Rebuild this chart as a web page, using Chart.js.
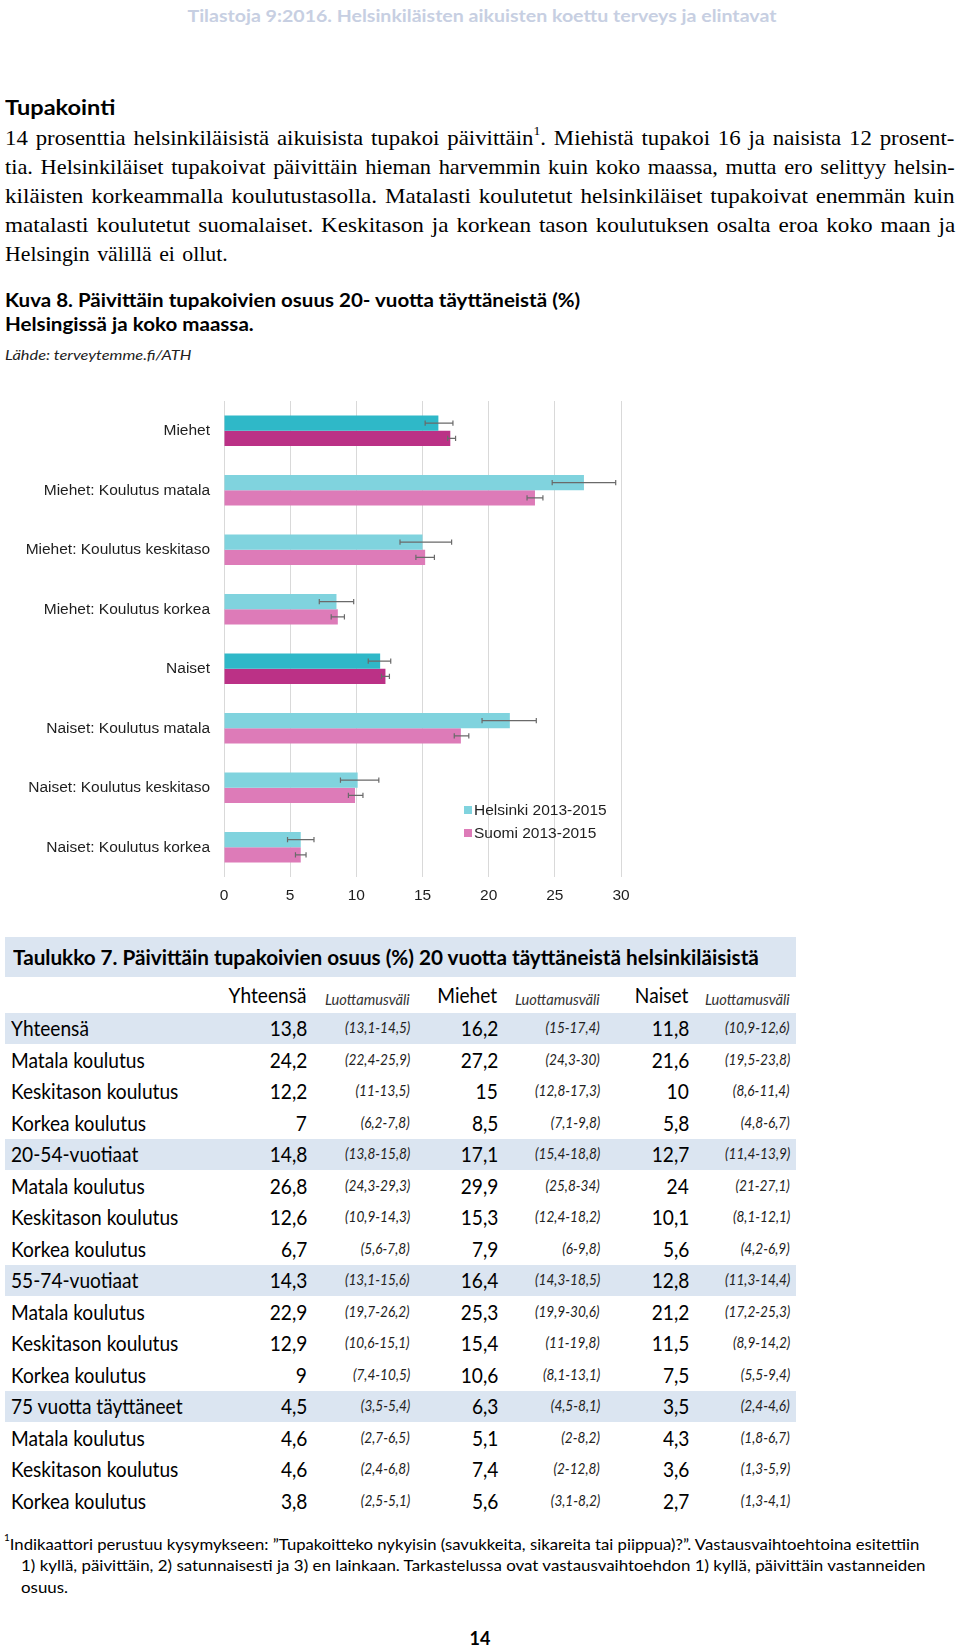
<!DOCTYPE html>
<html><head><meta charset="utf-8">
<script src="https://cdn.jsdelivr.net/npm/chart.js@4.4.1/dist/chart.umd.min.js"></script>
<style>
html,body{margin:0;padding:0;background:#fff}
body{width:960px;height:1649px;position:relative;overflow:hidden}
.t{position:absolute;white-space:nowrap;line-height:1;color:#000}
.band{position:absolute;background:#dbe5f1}
sup{font-size:0.6em;vertical-align:top;position:relative;top:-0.15em}
</style></head><body>
<canvas id="c" width="650" height="530" style="position:absolute;left:0;top:390px;width:650px;height:530px"></canvas>
<script>
// ---------- chart data ----------
const categories = ["Miehet","Miehet: Koulutus matala","Miehet: Koulutus keskitaso","Miehet: Koulutus korkea","Naiset","Naiset: Koulutus matala","Naiset: Koulutus keskitaso","Naiset: Koulutus korkea"];
const seriesNames = ["Helsinki 2013-2015","Suomi 2013-2015"];
const helsinkiValues = [16.2, 27.2, 15.0, 8.5, 11.8, 21.6, 10.1, 5.8];
const helsinkiLow    = [15.2, 24.8, 13.3, 7.2, 10.9, 19.5, 8.8, 4.8];
const helsinkiHigh   = [17.3, 29.6, 17.2, 9.8, 12.6, 23.6, 11.7, 6.8];
const suomiValues    = [17.1, 23.5, 15.2, 8.6, 12.2, 17.9, 9.9, 5.8];
const suomiLow       = [16.9, 22.9, 14.5, 8.1, 11.9, 17.4, 9.4, 5.4];
const suomiHigh      = [17.5, 24.1, 15.9, 9.1, 12.5, 18.5, 10.5, 6.2];
const totalRows      = [0, 4];
const xTicks         = [0, 5, 10, 15, 20, 25, 30];

// ---------- table data ----------
const tableTitle = "Taulukko 7. Päivittäin tupakoivien osuus (%) 20 vuotta täyttäneistä helsinkiläisistä";
const tableHeads = ["Yhteensä","Miehet","Naiset"];
const ciHead = "Luottamusväli";
const tableRows = ["Yhteensä","Matala koulutus","Keskitason koulutus","Korkea koulutus","20-54-vuotiaat","Matala koulutus","Keskitason koulutus","Korkea koulutus","55-74-vuotiaat","Matala koulutus","Keskitason koulutus","Korkea koulutus","75 vuotta täyttäneet","Matala koulutus","Keskitason koulutus","Korkea koulutus"];
const bandRows = [0, 4, 8, 12];
const totalVals = ["13,8","24,2","12,2","7","14,8","26,8","12,6","6,7","14,3","22,9","12,9","9","4,5","4,6","4,6","3,8"];
const totalCI = ["(13,1-14,5)","(22,4-25,9)","(11-13,5)","(6,2-7,8)","(13,8-15,8)","(24,3-29,3)","(10,9-14,3)","(5,6-7,8)","(13,1-15,6)","(19,7-26,2)","(10,6-15,1)","(7,4-10,5)","(3,5-5,4)","(2,7-6,5)","(2,4-6,8)","(2,5-5,1)"];
const menVals = ["16,2","27,2","15","8,5","17,1","29,9","15,3","7,9","16,4","25,3","15,4","10,6","6,3","5,1","7,4","5,6"];
const menCI = ["(15-17,4)","(24,3-30)","(12,8-17,3)","(7,1-9,8)","(15,4-18,8)","(25,8-34)","(12,4-18,2)","(6-9,8)","(14,3-18,5)","(19,9-30,6)","(11-19,8)","(8,1-13,1)","(4,5-8,1)","(2-8,2)","(2-12,8)","(3,1-8,2)"];
const womenVals = ["11,8","21,6","10","5,8","12,7","24","10,1","5,6","12,8","21,2","11,5","7,5","3,5","4,3","3,6","2,7"];
const womenCI = ["(10,9-12,6)","(19,5-23,8)","(8,6-11,4)","(4,8-6,7)","(11,4-13,9)","(21-27,1)","(8,1-12,1)","(4,2-6,9)","(11,3-14,4)","(17,2-25,3)","(8,9-14,2)","(5,5-9,4)","(2,4-4,6)","(1,8-6,7)","(1,3-5,9)","(1,3-4,1)"];

// ---------- text helpers ----------
function put(html, o){
  const el=document.createElement('div');
  el.className='t';
  el.innerHTML=html;
  el.style.font=o.font;
  if(o.color) el.style.color=o.color;
  if(o.ws!==undefined) el.style.wordSpacing=o.ws+'px';
  document.body.appendChild(el);
  const w=el.offsetWidth, h=el.offsetHeight;
  const k=o.w? o.w/w : (o.k||1);
  let left=o.x, origin='left';
  if(o.align==='right'){left=o.x-w;origin='right';}
  else if(o.align==='center'){left=o.x-w/2;origin='center';}
  el.style.left=left+'px';
  el.style.top=(o.y-h/2)+'px';
  el.style.transformOrigin=origin+' center';
  el.style.transform='scaleX('+k+')';
  return el;
}
function measure(text, font){
  const el=document.createElement('span');
  el.style.cssText='position:absolute;white-space:nowrap;visibility:hidden;font:'+font;
  el.textContent=text; document.body.appendChild(el);
  const w=el.offsetWidth; el.remove(); return w;
}

// header
put("Tilastoja 9:2016. Helsinkiläisten aikuisten koettu terveys ja elintavat",{x:482,y:15,align:'center',font:'bold 17px Lato',color:'#c7cfe2',w:589});
put("Tupakointi",{x:5,y:106,font:'bold 21px Lato',w:110});

// paragraph (justified lines)
const pf='21.5px "Liberation Serif"';
const pLines=[
 "14 prosenttia helsinkiläisistä aikuisista tupakoi päivittäin<sup>1</sup>. Miehistä tupakoi 16 ja naisista 12 prosent-",
 "tia. Helsinkiläiset tupakoivat päivittäin hieman harvemmin kuin koko maassa, mutta ero selittyy helsin-",
 "kiläisten korkeammalla koulutustasolla. Matalasti koulutetut helsinkiläiset tupakoivat enemmän kuin",
 "matalasti koulutetut suomalaiset. Keskitason ja korkean tason koulutuksen osalta eroa koko maan ja"
];
pLines.forEach((l,i)=>put(l,{x:5,y:138+i*29,font:pf,ws:2,w:950}));
put("Helsingin välillä ei ollut.",{x:5,y:138+4*29,font:pf,ws:2,w:223});

put("Kuva 8. Päivittäin tupakoivien osuus 20- vuotta täyttäneistä (%)",{x:5,y:300,font:'bold 18px Lato',w:575});
put("Helsingissä ja koko maassa.",{x:5,y:324,font:'bold 18px Lato',w:249});
put("Lähde: terveytemme.fi/ATH",{x:5,y:354,font:'italic 14px Lato',w:186,color:'#222'});

// ---------- chart ----------
const darkColors=['#2fb8c8','#bb3186'];
const lightColors=['#80d3de','#dd7bb8'];
function colorsFor(d){return categories.map((c,i)=>totalRows.includes(i)?darkColors[d]:lightColors[d]);}

const errorBarPlugin={id:'errbars',afterDatasetsDraw(chart){
  const ctx=chart.ctx, xs=chart.scales.x;
  const lows=[helsinkiLow,suomiLow], highs=[helsinkiHigh,suomiHigh];
  ctx.save(); ctx.strokeStyle='#6a6a6a'; ctx.lineWidth=1.2;
  chart.data.datasets.forEach((ds,d)=>{
    chart.getDatasetMeta(d).data.forEach((bar,j)=>{
      const y=bar.y, x1=xs.getPixelForValue(lows[d][j]), x2=xs.getPixelForValue(highs[d][j]);
      ctx.beginPath();
      ctx.moveTo(x1,y); ctx.lineTo(x2,y);
      ctx.moveTo(x1,y-2.6); ctx.lineTo(x1,y+2.6);
      ctx.moveTo(x2,y-2.6); ctx.lineTo(x2,y+2.6);
      ctx.stroke();
    });
  });
  ctx.restore();
}};
const legendPlugin={id:'inlegend',afterDraw(chart){
  const ctx=chart.ctx, a=chart.chartArea;
  ctx.save();
  ctx.font='15.5px "Liberation Sans", Arial';
  ctx.textBaseline='middle';
  chart.data.datasets.forEach((ds,i)=>{
    const x=a.left+240, y=a.bottom-67+i*23;
    ctx.fillStyle=lightColors[i]; ctx.fillRect(x,y-4,8,8);
    ctx.fillStyle='#1e1e1e'; ctx.fillText(ds.label,x+10,y+0.5);
  });
  ctx.restore();
}};

new Chart(document.getElementById('c'),{
  type:'bar',
  data:{labels:categories,datasets:[
    {label:seriesNames[0],data:helsinkiValues,backgroundColor:colorsFor(0)},
    {label:seriesNames[1],data:suomiValues,backgroundColor:colorsFor(1)}
  ]},
  options:{
    indexAxis:'y',responsive:false,animation:false,devicePixelRatio:1,
    datasets:{bar:{categoryPercentage:0.51,barPercentage:1}},
    layout:{padding:{left:0,right:29,top:11,bottom:0}},
    plugins:{legend:{display:false},tooltip:{enabled:false}},
    scales:{
      x:{type:'linear',min:xTicks[0],max:xTicks[xTicks.length-1],
         afterBuildTicks(s){s.ticks=xTicks.map(v=>({value:v}));},
         grid:{color:'#d9d9d9',lineWidth:1,drawTicks:false},
         border:{display:false},
         ticks:{padding:9,color:'#1e1e1e',font:{family:'"Liberation Sans", Arial',size:15.5}},
         afterFit(s){s.height=43;s.paddingLeft=0;s.paddingRight=0;}},
      y:{grid:{display:false,drawTicks:false},border:{display:false},
         ticks:{padding:14,color:'#1e1e1e',autoSkip:false,font:{family:'"Liberation Sans", Arial',size:15.5}},
         afterFit(s){s.width=224;s.paddingTop=0;s.paddingBottom=0;}}
    }
  },
  plugins:[errorBarPlugin,legendPlugin]
});

// ---------- table ----------
const tf='20.5px Lato';
const cf='italic 15.5px Lato';
const kT=167/measure("Keskitason koulutus",tf);
const kC=65/measure("(13,1-14,5)",cf);
const kH=85/measure(ciHead,cf);
const band=(top,h)=>{const b=document.createElement('div');b.className='band';b.style.cssText+='left:5px;width:791px;top:'+top+'px;height:'+h+'px';document.body.appendChild(b);};
band(937,40);
put(tableTitle,{x:12.5,y:957,font:'bold 20.5px Lato',w:746});
const valR=[307,497.5,689], ciR=[409.5,600,790];
tableHeads.forEach((h,i)=>{
  put(h,{x:valR[i]-1,y:995,align:'right',font:tf,k:kT});
  put(ciHead,{x:ciR[i],y:999,align:'right',font:cf,k:kH,color:'#333'});
});
const rowY=i=>1028+i*31.5;
bandRows.forEach(i=>band(rowY(i)-15.5,31.5));
const vals=[totalVals,menVals,womenVals], cis=[totalCI,menCI,womenCI];
tableRows.forEach((r,i)=>{
  const y=rowY(i);
  put(r,{x:11,y:y,font:tf,k:kT});
  for(let c=0;c<3;c++){
    put(vals[c][i],{x:valR[c],y:y,align:'right',font:tf,k:kT});
    put(cis[c][i],{x:ciR[c],y:y-1,align:'right',font:cf,k:kC,color:'#222'});
  }
});

// footnote
const ff='16px Lato';
const fn2='1) kyllä, päivittäin, 2) satunnaisesti ja 3) en lainkaan. Tarkastelussa ovat vastausvaihtoehdon 1) kyllä, päivittäin vastanneiden';
put('<sup>1</sup>Indikaattori perustuu kysymykseen: ”Tupakoitteko nykyisin (savukkeita, sikareita tai piippua)?”. Vastausvaihtoehtoina esitettiin',{x:4,y:1543,font:ff,w:915});
put(fn2,{x:21,y:1564.5,font:ff,w:905});
put('osuus.',{x:21,y:1586,font:ff,k:905/measure(fn2,ff)});
put('14',{x:480,y:1638,align:'center',font:'bold 18px Lato'});
</script>
</body></html>
